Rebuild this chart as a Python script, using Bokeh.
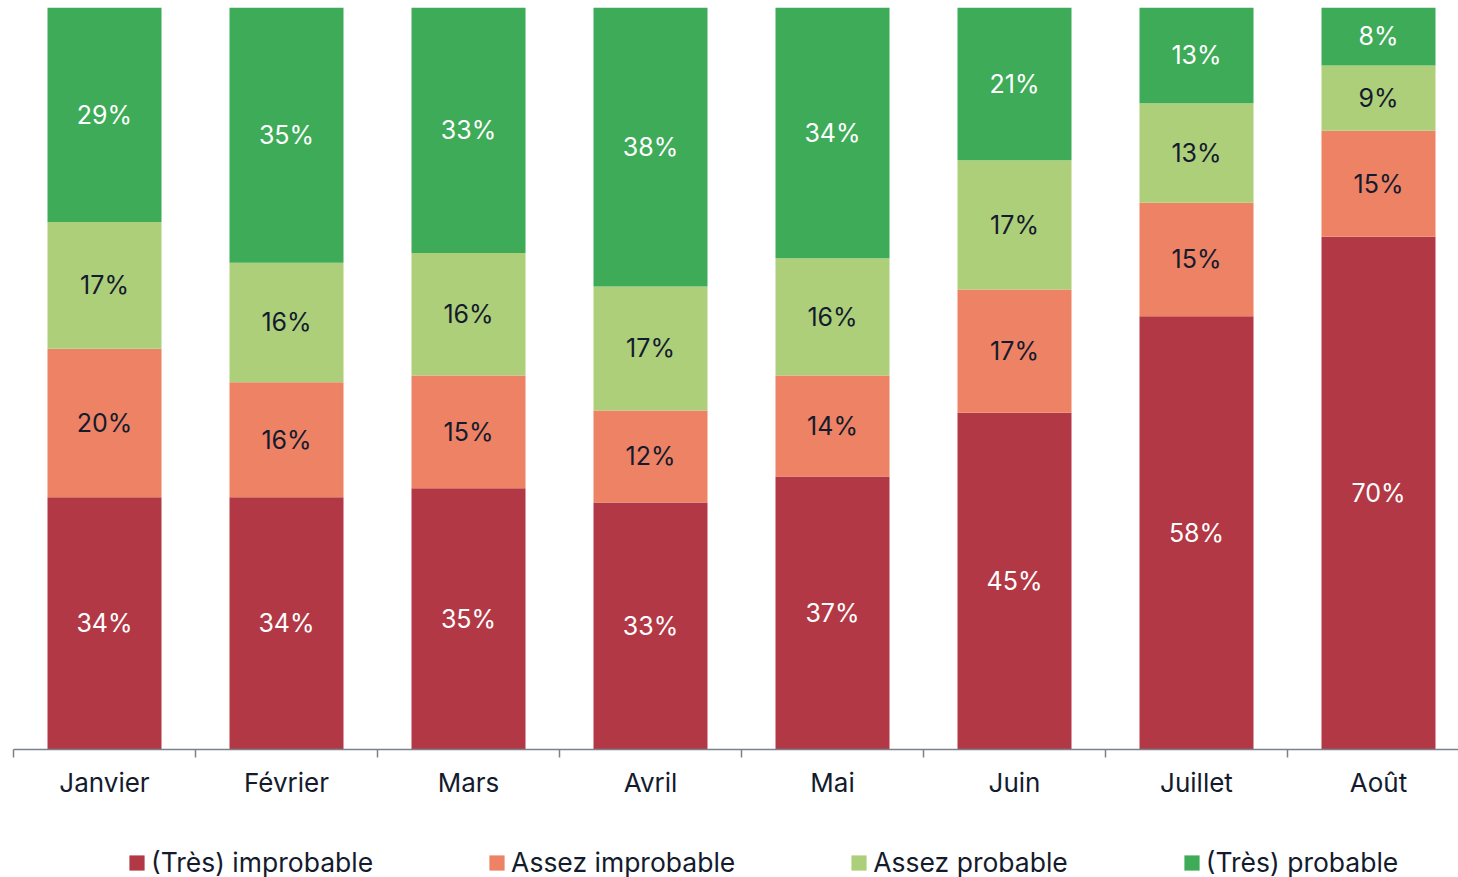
from bokeh.plotting import figure
from bokeh.layouts import column
from bokeh.models import ColumnDataSource, FixedTicker, Range1d, Legend, LegendItem
from bokeh.core.properties import value
from bokeh.embed import file_html
from bokeh.resources import INLINE

months = ["Janvier", "Février", "Mars", "Avril", "Mai", "Juin", "Juillet", "Août"]
series = ["(Très) improbable", "Assez improbable", "Assez probable", "(Très) probable"]

# bar heights (share of 100%)
tres_improbable = [34.0, 34.0, 35.2, 33.3, 36.8, 45.4, 58.4, 69.1]
assez_improbable = [20.0, 15.5, 15.2, 12.4, 13.6, 16.6, 15.3, 14.3]
assez_probable = [17.1, 16.1, 16.5, 16.7, 15.8, 17.4, 13.4, 8.8]
tres_probable = [28.9, 34.4, 33.1, 37.6, 33.8, 20.6, 12.9, 7.8]

# labels as printed on the chart
lab_tres_improbable = ["34%", "34%", "35%", "33%", "37%", "45%", "58%", "70%"]
lab_assez_improbable = ["20%", "16%", "15%", "12%", "14%", "17%", "15%", "15%"]
lab_assez_probable = ["17%", "16%", "16%", "17%", "16%", "17%", "13%", "9%"]
lab_tres_probable = ["29%", "35%", "33%", "38%", "34%", "21%", "13%", "8%"]

colors = ["#B33845", "#EE8265", "#ADCF7A", "#3DAB57"]
text_colors = ["white", "#141B2D", "#141B2D", "white"]

values = [tres_improbable, assez_improbable, assez_probable, tres_probable]
labels = [lab_tres_improbable, lab_assez_improbable, lab_assez_probable, lab_tres_probable]

FONT = "Inter"
DARK = "#141B2D"
AXIS = "#7A8290"

x = list(range(len(months)))
cat_w = 182.0
W = 1458
left = 13
frame_w = W - left
H1 = 818

p = figure(width=W, height=H1, output_backend="svg", toolbar_location=None,
           x_range=Range1d(-0.5, -0.5 + frame_w / cat_w), y_range=Range1d(0, 100),
           min_border_left=left, min_border_right=0, min_border_top=7,
           min_border_bottom=H1 - 749)
p.outline_line_color = None
p.grid.visible = False
p.yaxis.visible = False

bottom = [0.0] * len(x)
for vals, labs, col, tcol in zip(values, labels, colors, text_colors):
    top = [b + v for b, v in zip(bottom, vals)]
    mid = [(b + t) / 2 for b, t in zip(bottom, top)]
    src = ColumnDataSource(dict(x=x, bottom=bottom, top=top, mid=mid, lab=labs))
    p.vbar(x="x", width=114 / cat_w, bottom="bottom", top="top", source=src,
           fill_color=col, line_color=None)
    p.text(x="x", y="mid", text="lab", source=src, text_align="center",
           text_baseline="middle", text_color=tcol, text_font=value(FONT),
           text_font_size="25px")
    bottom = top

ax = p.xaxis[0]
ax.ticker = FixedTicker(ticks=x, minor_ticks=[i - 0.5 for i in range(len(months) + 1)])
ax.major_label_overrides = {i: m for i, m in enumerate(months)}
ax.major_tick_out = 0
ax.major_tick_in = 0
ax.minor_tick_out = 8
ax.minor_tick_in = 0
ax.minor_tick_line_color = AXIS
ax.minor_tick_line_width = 1.5
ax.axis_line_color = AXIS
ax.axis_line_width = 1.5
ax.major_label_standoff = 9
ax.major_label_text_font = FONT
ax.major_label_text_font_size = "26px"
ax.major_label_text_color = DARK

# legend strip (series drawn out of view, only their legend swatches show)
p2 = figure(width=W, height=877 - H1, output_backend="svg", toolbar_location=None,
            x_range=Range1d(-100, -99), y_range=Range1d(0, 1),
            min_border_left=0, min_border_right=0, min_border_top=0, min_border_bottom=0)
p2.outline_line_color = None
p2.grid.visible = False
p2.axis.visible = False
items = []
for s, vals, col in zip(series, values, colors):
    r = p2.vbar(x=x, top=vals, width=0.5, fill_color=col, line_color=None)
    items.append(LegendItem(label=s, renderers=[r]))
legend = Legend(items=items, orientation="horizontal", location=(114, -1), spacing=114,
                glyph_width=19, glyph_height=19, label_standoff=5, padding=0, margin=0,
                label_text_font=FONT, label_text_font_size="26.5px", label_text_color=DARK,
                border_line_color=None, background_fill_alpha=0)
p2.add_layout(legend, "center")

open("out.html", "w").write(file_html(column(p, p2, spacing=0), INLINE))
